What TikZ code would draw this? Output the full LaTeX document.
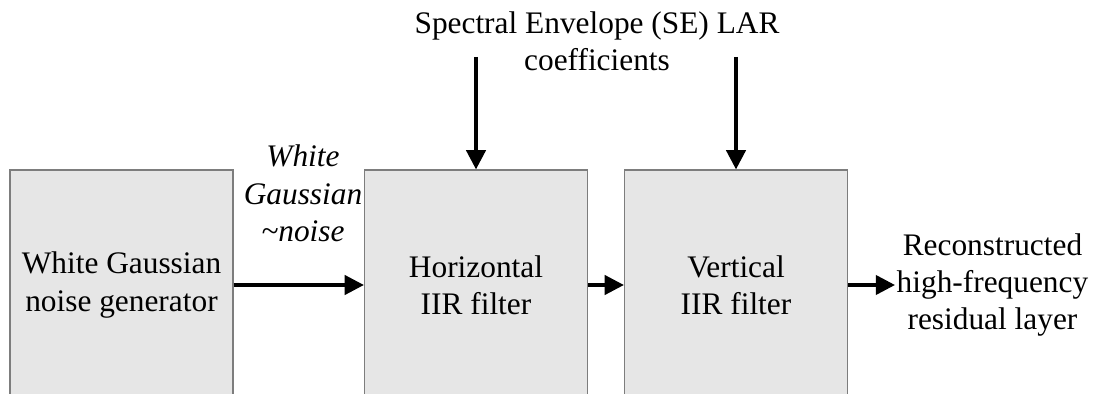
\documentclass[tikz,border=0pt]{standalone}
\usepackage{fontspec}
\setmainfont{Liberation Serif}
\usetikzlibrary{arrows.meta}
\definecolor{boxgray}{RGB}{230,230,230}
\definecolor{edgegray}{RGB}{125,125,125}
\tikzset{
  block/.style={draw=edgegray, fill=boxgray, line width=0.8pt, inner sep=0pt,
    minimum width=5.575cm, minimum height=5.75cm, align=center,
    font=\fontsize{22.3}{26.5}\selectfont},
  lbl/.style={align=center, inner sep=1pt, font=\fontsize{22.3}{26.5}\selectfont},
  flow/.style={-{Triangle[length=0.48cm,width=0.48cm]}, line width=2.5pt}
}
\begin{document}
\begin{tikzpicture}[x=0.025cm, y=-0.025cm]
        \useasboundingbox (0,0) rectangle (1112,394);
        \clip (0,0) rectangle (1112,394);
        % processing chain
        \node[block] (gen) at (121.5,285) {White Gaussian\\noise generator};
        \node[block] (hfilt) at (476,285) {Horizontal\\IIR filter};
        \node[block] (vfilt) at (736,285) {Vertical\\IIR filter};
        \node[lbl, anchor=west] (out) at (895,285) {Reconstructed\\high-frequency\\residual layer};
        \node[lbl] (se) at (597,41) {Spectral Envelope (SE) LAR\\coefficients};
        \node[lbl, font=\fontsize{22.3}{26.5}\selectfont\itshape] (noise) at (303,193.5) {White\\Gaussian\\\textasciitilde noise};
        \coordinate (seh) at (476,57);
        \coordinate (sev) at (736,57);
        \draw[flow] (gen) -- (hfilt);
        \draw[flow] (hfilt) -- (vfilt);
        \draw[flow] (vfilt) -- (out);
        \draw[flow] (seh) -- (hfilt.north);
        \draw[flow] (sev) -- (vfilt.north);
\end{tikzpicture}
\end{document}
